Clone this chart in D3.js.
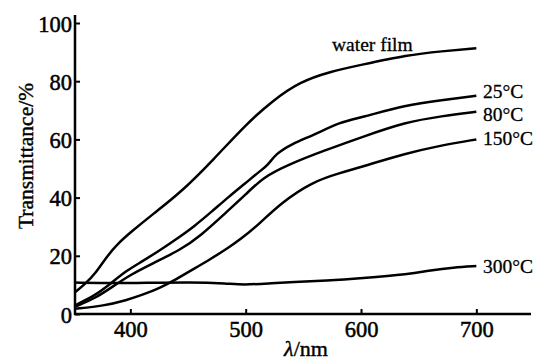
<!DOCTYPE html>
<html>
<head>
<meta charset="utf-8">
<script src="https://cdn.jsdelivr.net/npm/d3@7"></script>
<style>
  body { margin: 0; background: #fff; }
  svg { display: block; }
</style>
</head>
<body>
<div id="chart"></div>
<script>
// wavelength (nm) / transmittance (%) pairs
var waterFilm = [[352,7.5],[360,10],[370,14],[380,20],[390,24.5],[400,28],[420,34.5],[443,41.5],[472,53],[501,65.5],[524,73.5],[547,79.8],[573,83.3],[600,85.6],[640,89],[670,90.3],[700,91.3]];
var t25 = [[352,3],[370,6.5],[383,10.5],[397,15],[410,18],[426,22],[443,26.6],[455,30],[470,35],[486,40.5],[500,45],[512,49],[519,51],[526,55],[540,58.5],[559,61.5],[582,66],[600,67.5],[639,71.8],[670,73.5],[700,75]];
var t80 = [[352,2.5],[370,5.5],[385,9.5],[400,13.5],[420,17.5],[443,22],[460,26.5],[486,36],[500,41],[515,47],[538,51.5],[567,56],[600,60.7],[639,66],[670,68],[700,69.5]];
var t150 = [[352,1.8],[377,2.8],[397,4.8],[410,6.5],[426,9],[440,12],[455,15.5],[470,19],[484,22.5],[495,25.5],[512,31],[530,38],[558,45.5],[582,48.5],[600,50.5],[639,55.2],[670,58],[700,60]];
var t300 = [[352,10.8],[380,10.6],[400,10.6],[455,11],[484,10.5],[498,10],[520,10.5],[541,11],[570,11.5],[600,12.3],[642,13.7],[660,15],[680,16],[700,16.5]];

var seriesNames = ["water film", "25°C", "80°C", "150°C", "300°C"];
var seriesData = [waterFilm, t25, t80, t150, t300];
var xTicks = [400, 500, 600, 700];
var yTicks = [0, 20, 40, 60, 80, 100];

var width = 534, height = 362;
var serif = "'Liberation Serif', 'Times New Roman', Times, serif";

var x = d3.scaleLinear().domain([352, 750]).range([75, 534]);
var y = d3.scaleLinear().domain([0, 100]).range([314, 23]);

var svg = d3.select("#chart").append("svg")
    .attr("width", width)
    .attr("height", height);

// axes
var yAxis = svg.append("g")
    .attr("transform", "translate(" + x(352) + ",0)")
    .call(d3.axisLeft(y).tickValues(yTicks).tickSizeInner(-5).tickSizeOuter(0).tickPadding(3));
yAxis.select(".domain").remove();
yAxis.selectAll("line").attr("stroke", "#000").attr("stroke-width", 2);
yAxis.selectAll("text")
    .style("font-family", serif).style("font-size", "22.5px").attr("fill", "#000")
    .attr("stroke", "#000").attr("stroke-width", 0.5)
    .attr("dy", "0.36em");

var xAxis = svg.append("g")
    .attr("transform", "translate(0," + y(0) + ")")
    .call(d3.axisBottom(x).tickValues(xTicks).tickSizeInner(-5).tickSizeOuter(0).tickPadding(7));
xAxis.select(".domain").remove();
xAxis.selectAll("line").attr("stroke", "#000").attr("stroke-width", 2);
xAxis.selectAll("text")
    .style("font-family", serif).style("font-size", "22.5px").attr("fill", "#000")
    .attr("stroke", "#000").attr("stroke-width", 0.5);

svg.append("line")
    .attr("x1", x(352)).attr("x2", x(352))
    .attr("y1", 15).attr("y2", y(0) + 1)
    .attr("stroke", "#000").attr("stroke-width", 2.5);
svg.append("line")
    .attr("x1", x(352) - 1).attr("x2", 531)
    .attr("y1", y(0)).attr("y2", y(0))
    .attr("stroke", "#000").attr("stroke-width", 2.5);

// curves
var line = d3.line()
    .x(function(d) { return x(d[0]); })
    .y(function(d) { return y(d[1]); })
    .curve(d3.curveBasis);

svg.selectAll(".curve")
  .data(seriesData)
  .enter().append("path")
    .attr("class", "curve")
    .attr("fill", "none")
    .attr("stroke", "#000")
    .attr("stroke-width", 2.5)
    .attr("stroke-linejoin", "round")
    .attr("d", line);

// curve labels
var labelPos = [[332, 51], [483, 98], [483, 121], [483, 145], [483, 273]];
svg.selectAll(".lab")
  .data(seriesNames)
  .enter().append("text")
    .attr("class", "lab")
    .attr("x", function(d, i) { return labelPos[i][0]; })
    .attr("y", function(d, i) { return labelPos[i][1]; })
    .style("font-family", serif)
    .style("font-size", "19.5px")
    .attr("stroke", "#000").attr("stroke-width", 0.3)
    .text(function(d) { return d; });

// axis titles
svg.append("text")
    .attr("transform", "translate(33,156) rotate(-90)")
    .attr("text-anchor", "middle")
    .style("font-family", serif)
    .style("font-size", "21.5px")
    .attr("stroke", "#000").attr("stroke-width", 0.4)
    .text("Transmittance/%");

var xt = svg.append("text")
    .attr("x", 306).attr("y", 356)
    .attr("text-anchor", "middle")
    .style("font-family", serif)
    .style("font-size", "22px")
    .attr("stroke", "#000").attr("stroke-width", 0.4);
xt.append("tspan").style("font-style", "italic").text("λ");
xt.append("tspan").text("/nm");
</script>
</body>
</html>
